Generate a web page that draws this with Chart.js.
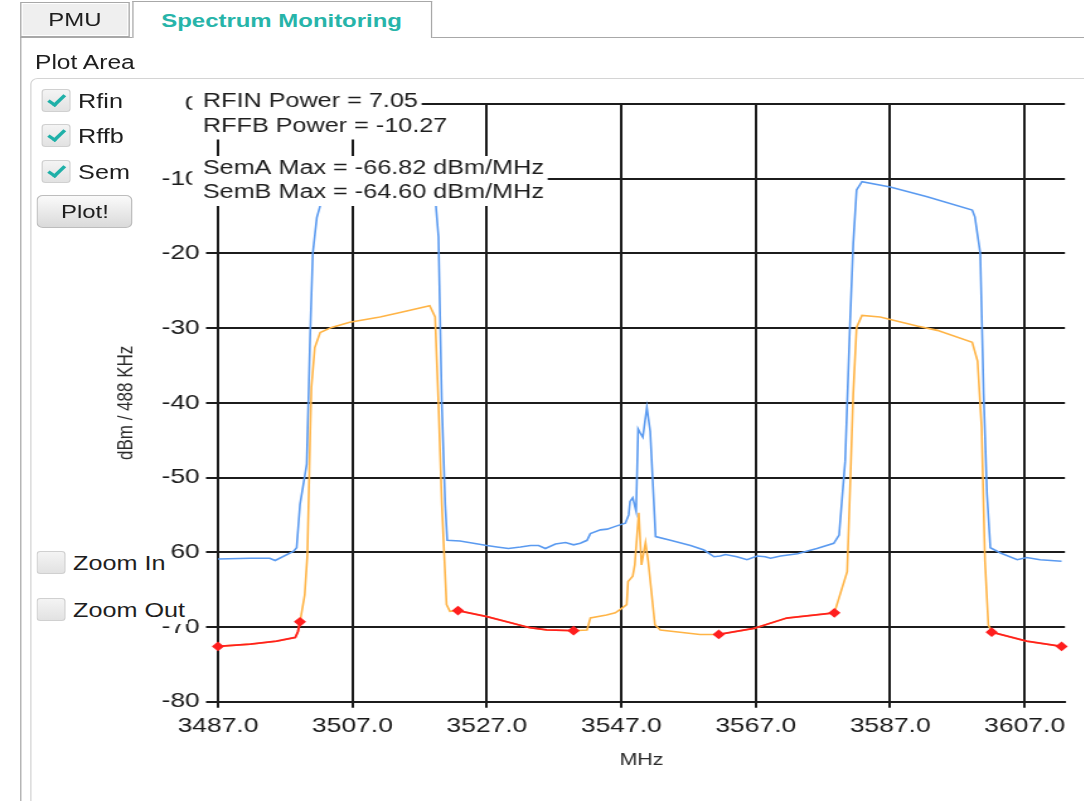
<!DOCTYPE html>
<html>
<head>
<meta charset="utf-8">
<script src="https://cdn.jsdelivr.net/npm/chart.js@4/dist/chart.umd.min.js"></script>
<style>
  html, body { margin:0; padding:0; background:#fff; overflow:hidden; }
  body { width:1084px; height:801px; font-family:'Liberation Sans', Arial, sans-serif; color:#1e1e1e; }
  #wrap { position:absolute; left:0; top:0; width:860px; height:801px; transform:scaleX(1.26); transform-origin:0 0; }
  .tab { position:absolute; box-sizing:border-box; font-size:19px; text-align:center; }
  #tabPmu { left:16px; top:2px; width:87px; height:35px; background:#efefef; border:1px solid #a8a8a8; box-shadow: inset 0 0 0 1px #fff; line-height:33px; color:#1e1e1e; }
  #tabSpec { left:104.5px; top:1px; width:238px; height:37px; background:#fff; border:1px solid #a8a8a8; border-bottom:none; line-height:37px; font-weight:bold; color:#27b4a9; z-index:3; }
  #panel { position:absolute; left:16px; top:37px; width:900px; height:800px; border-left:1px solid #a8a8a8; border-top:1px solid #a8a8a8; box-sizing:border-box; }
  #plotArea { position:absolute; left:27.8px; top:51px; font-size:19.5px; color:#1e1e1e; }
  #group { position:absolute; left:23.8px; top:78px; width:900px; height:800px; border:1px solid #d4d4d4; border-radius:6px; box-sizing:border-box; }
  .cb { position:absolute; box-sizing:border-box; width:23px; height:23px; border:1px solid #d0d0d0; border-radius:3px; background:linear-gradient(#f4f4f4,#e2e2e2); z-index:3; }
  .cb.checked::after { content:''; position:absolute; left:7px; top:2px; width:5px; height:11px; border-right:3px solid #1fb0a8; border-bottom:3px solid #1fb0a8; transform:rotate(40deg); }
  .lbl { position:absolute; font-size:20px; line-height:24px; z-index:3; color:#1e1e1e; }
  .lblbg { background:#fff; }
  #plotBtn { position:absolute; left:29.4px; top:195px; width:76px; height:33px; box-sizing:border-box; border:1px solid #bdbdbd; border-radius:5px; background:linear-gradient(#fafafa,#dadada); font-size:19px; line-height:31px; text-align:center; z-index:3; }
  #chart { position:absolute; left:0; top:0; z-index:2; }
</style>
</head>
<body>
<div id="wrap">
  <div id="panel"></div>
  <div class="tab" id="tabPmu">PMU</div>
  <div class="tab" id="tabSpec">Spectrum Monitoring</div>
  <div id="plotArea">Plot Area</div>
  <div id="group"></div>
  <canvas id="chart" width="860" height="801"></canvas>
  <div class="cb checked" style="left:33.3px; top:89px;"></div>
  <div class="lbl" style="left:62px; top:89px;">Rfin</div>
  <div class="cb checked" style="left:33.3px; top:124px;"></div>
  <div class="lbl" style="left:62px; top:124px;">Rffb</div>
  <div class="cb checked" style="left:33.3px; top:160px;"></div>
  <div class="lbl" style="left:62px; top:160px;">Sem</div>
  <div id="plotBtn">Plot!</div>
  <div class="cb" style="left:29.4px; top:551px;"></div>
  <div class="lbl lblbg" style="left:56px; top:551px; padding:0 4px 0 2px;">Zoom In</div>
  <div class="cb" style="left:29.4px; top:598px;"></div>
  <div class="lbl lblbg" style="left:56px; top:598px; height:26px; padding:0 2px 0 2px;">Zoom Out</div>
</div>
<script>
// ---------- data ----------
const xTicks = [3487, 3507, 3527, 3547, 3567, 3587, 3607];
const yTicks = [-80, -70, -60, -50, -40, -30, -20, -10, 0];

const rfinFreq = [3487.0,3491.8,3494.7,3495.5,3498.2,3498.7,3499.2,3500.2,3500.7,3501.1,3501.7,3502.4,3503.5,3510.0,3518.5,3519.2,3519.5,3519.8,3520.3,3520.8,3521.1,3523.0,3525.0,3527.0,3528.5,3530.2,3532.0,3533.5,3534.7,3535.7,3537.2,3538.7,3539.9,3540.9,3541.9,3542.4,3543.9,3544.9,3545.9,3546.9,3547.6,3548.1,3548.3,3548.7,3549.2,3549.5,3549.8,3550.2,3550.8,3551.3,3552.1,3554.3,3557.3,3559.3,3560.8,3561.7,3562.5,3564.2,3565.7,3567.2,3568.4,3569.2,3570.7,3573.2,3576.1,3578.6,3579.4,3580.3,3581.0,3581.5,3582.0,3582.8,3587.0,3592.5,3599.2,3599.6,3600.4,3600.9,3601.4,3601.9,3603.4,3605.9,3607.3,3609.3,3612.5];
const rfinDbm  = [-60.9,-60.8,-60.8,-61.1,-59.9,-59.4,-53.6,-48.2,-31.3,-20.0,-15.2,-13.0,-11.8,-10.9,-9.8,-11.0,-14.5,-17.8,-40.2,-53.6,-58.4,-58.5,-58.8,-59.1,-59.3,-59.5,-59.3,-59.1,-59.1,-59.5,-58.9,-58.7,-59.0,-58.8,-58.4,-57.5,-57.0,-56.9,-56.6,-56.3,-56.1,-55.0,-53.2,-52.7,-54.5,-43.5,-44.0,-44.6,-40.6,-43.8,-57.9,-58.4,-59.1,-59.7,-60.6,-60.5,-60.3,-60.6,-61.0,-60.5,-60.6,-60.8,-60.5,-60.2,-59.5,-58.8,-57.7,-47.8,-29.9,-18.7,-11.5,-10.4,-11.1,-12.4,-14.2,-15.1,-20.0,-38.8,-52.2,-59.4,-60.1,-61.0,-60.7,-61.0,-61.2];

const rffbFreq = [3487.0,3491.8,3495.7,3498.5,3498.9,3499.2,3499.9,3500.3,3500.7,3500.9,3501.4,3502.2,3503.9,3506.6,3511.1,3514.1,3518.5,3519.3,3519.8,3520.3,3521.0,3521.5,3522.7,3527.0,3533.4,3535.9,3539.9,3541.9,3542.4,3544.8,3546.1,3546.9,3547.8,3548.0,3548.7,3549.0,3549.6,3550.0,3550.6,3551.0,3552.0,3552.8,3558.7,3561.5,3566.7,3571.6,3573.6,3578.7,3580.6,3581.0,3581.5,3582.0,3582.8,3585.5,3591.0,3594.0,3599.2,3600.0,3600.6,3601.1,3601.6,3602.1,3607.3,3612.5];
const rffbDbm  = [-72.6,-72.3,-71.9,-71.4,-70.6,-69.3,-65.7,-60.3,-44.7,-37.9,-32.6,-30.6,-29.9,-29.2,-28.5,-27.9,-27.0,-28.5,-40.2,-53.6,-67.0,-67.9,-67.8,-68.6,-70.1,-70.4,-70.5,-70.4,-68.8,-68.4,-68.1,-67.6,-67.0,-63.9,-63.2,-61.7,-54.7,-61.7,-58.7,-61.2,-69.7,-70.4,-71.0,-71.0,-70.2,-68.8,-68.6,-68.1,-62.6,-52.3,-38.8,-29.9,-28.3,-28.5,-29.7,-30.3,-31.9,-34.4,-43.3,-61.2,-69.7,-70.7,-71.9,-72.6];

// SEM mask segments (null = gap between segments)
const semFreq = [3487.0,3491.8,3495.7,3498.5,3498.9,3499.2, 3510.0, 3522.7,3527.0,3533.4,3535.9,3539.9, 3550.0, 3561.5,3566.7,3571.6,3573.6,3578.7, 3590.0, 3602.1,3607.3,3612.5];
const semDbm  = [-72.6,-72.3,-71.9,-71.4,-70.6,-69.3, null, -67.8,-68.6,-70.1,-70.4,-70.5, null, -71.0,-70.2,-68.8,-68.6,-68.1, null, -70.7,-71.9,-72.6];

const infoLines = ['RFIN Power = 7.05', 'RFFB Power = -10.27', 'SemA Max = -66.82 dBm/MHz', 'SemB Max = -64.60 dBm/MHz'];

// ---------- chart ----------
const FONT = "'Liberation Sans', Arial, sans-serif";
Chart.defaults.font.family = FONT;
const toPts = (xs, ys) => xs.map((x, i) => ({ x: x, y: ys[i] }));

const infoPlugin = {
  id: 'infoBox',
  afterDatasetsDraw(chart) {
    const ctx = chart.ctx;
    ctx.save();
    ctx.font = '20px ' + FONT;
    ctx.textBaseline = 'middle';
    const left = 152.5, textX = 161;
    const centers = [101, 126, 168, 192.5];
    const bands = [[89, 114], [114, 139.5], [156, 181], [181, 206]];
    infoLines.forEach((t, i) => {
      const w = ctx.measureText(t).width;
      ctx.fillStyle = '#ffffff';
      ctx.fillRect(left, bands[i][0], textX - left + w + 3, bands[i][1] - bands[i][0]);
      ctx.fillStyle = '#1e1e1e';
      ctx.fillText(t, textX, centers[i]);
    });
    ctx.restore();
  }
};

const gridColor = '#1c1c1c';
new Chart(document.getElementById('chart'), {
  type: 'line',
  data: {
    datasets: [
      {
        label: 'Sem', data: toPts(semFreq, semDbm),
        borderColor: '#ff1f1f', backgroundColor: '#ff1f1f', borderWidth: 1.8,
        spanGaps: false, tension: 0, clip: false,
        pointStyle: 'rectRot', pointBackgroundColor: '#ff1f1f', pointBorderColor: '#ff1f1f',
        pointRadius: (c) => {
          const i = c.dataIndex;
          if (semDbm[i] == null) return 0;
          return (semDbm[i - 1] == null || semDbm[i + 1] == null) ? 3.6 : 0;
        }
      },
      {
        label: 'Rffb', data: toPts(rffbFreq, rffbDbm),
        borderColor: '#ffb446', borderWidth: 1.6, pointRadius: 0, tension: 0
      },
      {
        label: 'Rfin', data: toPts(rfinFreq, rfinDbm),
        borderColor: '#5a9af0', borderWidth: 1.6, pointRadius: 0, tension: 0
      }
    ]
  },
  options: {
    responsive: false,
    animation: false,
    devicePixelRatio: 1,
    events: [],
    layout: { padding: { top: 104, right: 14.8, bottom: 0, left: 0 } },
    plugins: { legend: { display: false }, tooltip: { enabled: false } },
    scales: {
      x: {
        type: 'linear', min: 3487, max: 3613,
        afterBuildTicks: (s) => { s.ticks = xTicks.map(v => ({ value: v })); },
        afterFit: (s) => { s.height = 99.3; },
        ticks: { callback: (v) => Number(v).toFixed(1), font: { size: 21 }, color: '#1a1a1a', padding: 6, maxRotation: 0, autoSkip: false },
        grid: { color: gridColor, lineWidth: 2, tickLength: 6 },
        border: { color: gridColor, width: 2 },
        title: { display: true, text: 'MHz', font: { size: 17 }, color: '#2a2a2a', padding: { top: 0, bottom: 30.8 } }
      },
      y: {
        min: -80, max: 0,
        afterBuildTicks: (s) => { s.ticks = yTicks.map(v => ({ value: v })); },
        afterFit: (s) => { s.width = 173; },
        ticks: { callback: (v) => String(v), font: { size: 21 }, color: '#1a1a1a', padding: 5 },
        grid: { color: gridColor, lineWidth: 2, tickLength: 9.5 },
        border: { color: gridColor, width: 2 },
        title: { display: true, text: 'dBm / 488 KHz', font: { size: 17 }, color: '#2a2a2a', padding: { top: 90.6, bottom: 0 } }
      }
    }
  },
  plugins: [infoPlugin]
});
</script>
</body>
</html>
